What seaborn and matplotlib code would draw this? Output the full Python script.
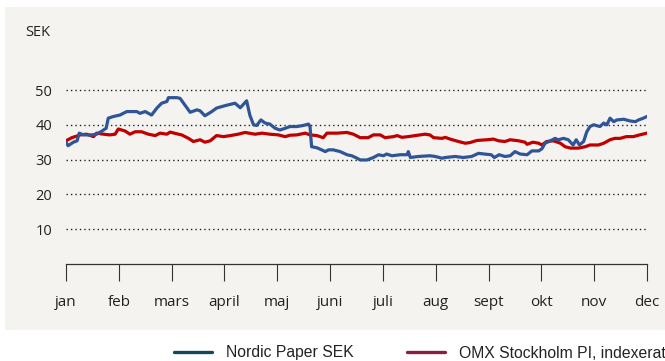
import matplotlib
matplotlib.use("Agg")
import matplotlib.pyplot as plt
from matplotlib.patches import Rectangle
from matplotlib.lines import Line2D
import seaborn as sns
import pandas as pd

# Month tick labels (position 0 = jan, 11 = dec)
months = ["jan", "feb", "mars", "april", "maj", "juni", "juli",
          "aug", "sept", "okt", "nov", "dec"]
y_ticks = [10, 20, 30, 40, 50]

# Nordic Paper share price, SEK (time in months from start of January)
nordic_t = [0.00, 0.04, 0.14, 0.21, 0.25, 0.33, 0.49, 0.58, 0.68, 0.76, 0.80, 0.90,
            1.02, 1.15, 1.34, 1.40, 1.50, 1.62, 1.72, 1.81, 1.91, 1.94, 2.10, 2.16,
            2.25, 2.35, 2.48, 2.54, 2.63, 2.76, 2.85, 3.01, 3.20, 3.30, 3.42, 3.48,
            3.55, 3.61, 3.69, 3.77, 3.86, 3.96, 4.05, 4.15, 4.24, 4.37, 4.49, 4.59,
            4.62, 4.65, 4.75, 4.84, 4.91, 4.97, 5.06, 5.19, 5.32, 5.41, 5.51, 5.57,
            5.70, 5.82, 5.92, 6.01, 6.07, 6.17, 6.33, 6.46, 6.48, 6.52, 6.67, 6.89,
            6.99, 7.12, 7.18, 7.37, 7.52, 7.68, 7.81, 7.92, 8.05, 8.11, 8.20, 8.31,
            8.41, 8.50, 8.60, 8.73, 8.82, 8.95, 9.01, 9.07, 9.17, 9.26, 9.32, 9.42,
            9.51, 9.60, 9.66, 9.72, 9.80, 9.86, 9.92, 9.99, 10.11, 10.18, 10.24, 10.30,
            10.37, 10.43, 10.56, 10.68, 10.78, 10.84, 10.93, 11.00]
nordic_sek = [35.0, 34.0, 35.0, 35.4, 37.6, 37.1, 37.1, 37.3, 38.2, 39.0, 41.9, 42.4,
              42.8, 43.8, 43.8, 43.3, 43.8, 42.8, 44.8, 46.2, 46.7, 47.8, 47.8, 47.6,
              45.7, 43.6, 44.3, 44.0, 42.6, 43.8, 44.8, 45.5, 46.2, 44.9, 46.9, 42.8,
              40.0, 39.8, 41.4, 40.5, 40.2, 39.0, 38.5, 39.0, 39.5, 39.5, 39.8, 40.2,
              39.5, 33.7, 33.4, 32.8, 32.3, 32.8, 32.8, 32.3, 31.4, 31.1, 30.4, 29.9,
              29.9, 30.6, 31.4, 31.1, 31.6, 31.1, 31.4, 31.4, 32.3, 30.6, 30.9, 31.1,
              30.9, 30.4, 30.6, 30.9, 30.6, 30.9, 31.8, 31.6, 31.4, 30.6, 31.4, 30.9,
              31.1, 32.3, 31.6, 31.4, 32.5, 32.5, 33.1, 34.7, 35.4, 36.1, 35.7, 36.1,
              35.7, 34.2, 35.7, 34.2, 35.2, 38.0, 39.5, 40.0, 39.5, 40.5, 40.0, 41.9,
              40.9, 41.4, 41.6, 41.1, 40.9, 41.4, 41.9, 42.4]

# OMX Stockholm PI, indexed to the Nordic Paper start value
omx_t = [0.00, 0.11, 0.27, 0.39, 0.52, 0.58, 0.71, 0.83, 0.93, 0.99, 1.12, 1.21,
         1.31, 1.43, 1.56, 1.69, 1.78, 1.91, 1.97, 2.13, 2.19, 2.32, 2.41, 2.54,
         2.63, 2.73, 2.85, 2.98, 3.11, 3.26, 3.39, 3.58, 3.71, 3.86, 4.02, 4.15,
         4.24, 4.37, 4.53, 4.62, 4.75, 4.87, 4.94, 5.13, 5.32, 5.44, 5.57, 5.72,
         5.82, 5.95, 6.04, 6.20, 6.27, 6.36, 6.48, 6.61, 6.80, 6.89, 6.96, 7.12,
         7.18, 7.27, 7.43, 7.56, 7.65, 7.78, 7.97, 8.09, 8.19, 8.31, 8.41, 8.57,
         8.69, 8.73, 8.84, 8.95, 9.01, 9.10, 9.23, 9.36, 9.45, 9.55, 9.70, 9.83,
         9.92, 10.08, 10.18, 10.30, 10.39, 10.49, 10.61, 10.74, 10.86, 11.00]
omx_idx = [35.4, 36.3, 37.1, 37.3, 36.6, 37.6, 37.3, 37.1, 37.3, 38.8, 38.2, 37.3,
           38.0, 38.0, 37.3, 36.9, 37.6, 37.3, 37.9, 37.3, 37.1, 36.1, 35.2, 35.7,
           35.0, 35.4, 36.9, 36.6, 36.9, 37.3, 37.8, 37.3, 37.6, 37.3, 37.1, 36.6,
           37.0, 37.1, 37.6, 37.1, 36.9, 36.3, 37.6, 37.6, 37.8, 37.3, 36.3, 36.3,
           37.1, 37.1, 36.3, 36.6, 36.9, 36.4, 36.6, 36.9, 37.3, 37.1, 36.3, 36.1,
           36.4, 35.9, 35.2, 34.7, 34.9, 35.5, 35.7, 35.9, 35.4, 35.2, 35.7, 35.4,
           35.0, 34.4, 35.0, 34.7, 34.2, 35.2, 35.4, 34.7, 33.7, 33.3, 33.3, 33.7,
           34.2, 34.2, 34.7, 35.7, 36.1, 36.1, 36.6, 36.6, 37.1, 37.6]

legend_labels = ["Nordic Paper SEK", "OMX Stockholm PI, indexerat"]

sns.set_style("white")
plt.rcParams["font.family"] = ["Open Sans", "DejaVu Sans"]

W, H = 665, 361
fig = plt.figure(figsize=(W / 100, H / 100), dpi=100)
fig.patch.set_facecolor("white")

# light panel behind the chart
fig.patches.append(Rectangle((5 / W, 1 - 330 / H), 660 / W, 323 / H,
                             transform=fig.transFigure, facecolor="#f4f3f0",
                             edgecolor="none", zorder=-10))

y_top = 55
px_per_unit = 3.48
ax_h = y_top * px_per_unit
ax = fig.add_axes([66 / W, 1 - 264 / H, 581 / W, ax_h / H])
ax.set_facecolor("none")
ax.set_zorder(5)

df_nordic = pd.DataFrame({"t": nordic_t, "v": nordic_sek})
df_omx = pd.DataFrame({"t": omx_t, "v": omx_idx})
sns.lineplot(data=df_omx, x="t", y="v", ax=ax, color="#c00000", lw=2.3,
             estimator=None, sort=False, zorder=3)
sns.lineplot(data=df_nordic, x="t", y="v", ax=ax, color="#2f5597", lw=2.3,
             estimator=None, sort=False, zorder=4)

ax.set_xlim(0, 11)
ax.set_ylim(0, y_top)
ax.set_xlabel("")
ax.set_ylabel("")

ax.set_xticks(range(len(months)))
ax.set_xticklabels(months)
ax.set_yticks(y_ticks)
ax.set_yticklabels([str(v) for v in y_ticks])
ax.tick_params(axis="x", direction="out", length=12, width=0.8, color="#333333",
               pad=10.5, labelsize=11, labelcolor="#222222", bottom=True)
ax.tick_params(axis="y", length=0, pad=10, labelsize=10.5, labelcolor="#222222")

ax.yaxis.grid(True, linestyle=(0, (1, 2.2)), color="#222222", lw=1.0)
ax.xaxis.grid(False)
for side in ["top", "right", "left"]:
    ax.spines[side].set_visible(False)
ax.spines["bottom"].set_color("#333333")
ax.spines["bottom"].set_linewidth(0.9)

fig.text(25 / W, 1 - 33 / H, "SEK", ha="left", va="center", fontsize=10.5,
         color="#222222")

handles = [Line2D([], [], color="#17475a", lw=2.4),
           Line2D([], [], color="#8b1e3f", lw=2.4)]
fig.legend(handles=handles, labels=legend_labels, loc="center left",
           bbox_to_anchor=(174 / W, 1 - 353 / H), ncol=2, frameon=False,
           borderpad=0, borderaxespad=0, handlelength=2.42, handletextpad=0.9,
           columnspacing=3.4, prop={"family": ["Liberation Sans"], "size": 11.3},
           labelcolor="#222222")

fig.savefig("out.png", dpi=100, facecolor="white")
